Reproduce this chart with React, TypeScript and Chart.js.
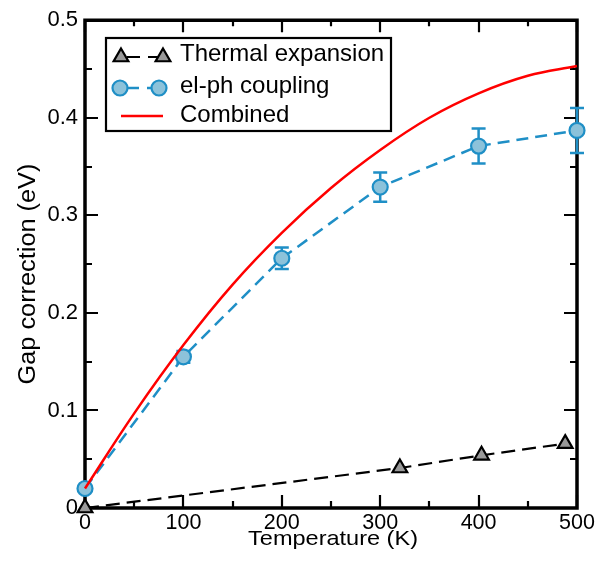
import React, { useEffect, useRef } from "react";
import { Chart, registerables } from "chart.js";

Chart.register(...registerables);

// ---- data ----
const thermalT = [0, 320, 403, 488];
const thermalGap = [0, 0.041, 0.054, 0.066];

const elphT = [0, 100, 200, 300, 400, 500];
const elphGap = [0.02, 0.155, 0.256, 0.329, 0.371, 0.387];
const elphErr = [0, 0.006, 0.011, 0.015, 0.018, 0.023];

const combinedT = [0, 50, 100, 150, 200, 250, 300, 350, 400, 450, 500];
const combinedGap = [0.02, 0.097, 0.167, 0.229, 0.282, 0.328, 0.367, 0.4, 0.425, 0.443, 0.453];

const seriesLabels = ["Thermal expansion", "el-ph coupling", "Combined"];
const xTickValues = [0, 100, 200, 300, 400, 500];
const yTickValues = [0, 0.1, 0.2, 0.3, 0.4, 0.5];
const xTitle = "Temperature (K)";
const yTitle = "Gap correction (eV)";

// ---- styles ----
const FONT = "'Liberation Sans', Arial, Helvetica, sans-serif";
const BLUE = "#1f8fc6";
const BLUE_FILL = "#8cc2da";
const RED = "#ff0000";
const GRAY = "#999999";

const xMinor = 50;
const yMinor = 0.05;

const framePlugin = {
  id: "frameTicks",
  beforeDatasetsDraw(chart: any) {
    const { ctx, chartArea: a, scales } = chart;
    const xs = scales.x;
    const ys = scales.y;
    ctx.save();
    ctx.strokeStyle = "#000";
    ctx.lineWidth = 2.2;
    ctx.beginPath();
    const xMax = xTickValues[xTickValues.length - 1];
    for (let i = 0; i * xMinor <= xMax + 1e-9; i++) {
      const v = i * xMinor;
      const px = Math.round(xs.getPixelForValue(v));
      const major = xTickValues.some((t) => Math.abs(t - v) < 1e-9);
      const len = major ? 13 : 7;
      ctx.moveTo(px, a.bottom);
      ctx.lineTo(px, a.bottom - len);
      ctx.moveTo(px, a.top);
      ctx.lineTo(px, a.top + len - 1);
    }
    const yMax = yTickValues[yTickValues.length - 1];
    for (let i = 0; i * yMinor <= yMax + 1e-9; i++) {
      const v = i * yMinor;
      const py = Math.round(ys.getPixelForValue(v));
      const major = yTickValues.some((t) => Math.abs(t - v) < 1e-9);
      const len = major ? 13 : 7;
      ctx.moveTo(a.left, py);
      ctx.lineTo(a.left + len, py);
      ctx.moveTo(a.right, py);
      ctx.lineTo(a.right - len, py);
    }
    ctx.stroke();
    ctx.lineWidth = 3.5;
    ctx.beginPath();
    ctx.rect(a.left, a.top, a.right - a.left, a.bottom - a.top);
    ctx.stroke();
    ctx.restore();
  },
};

const errorBarPlugin = {
  id: "errorBars",
  beforeDatasetDraw(chart: any, args: any) {
    if (args.index !== 1) return;
    const { ctx, scales } = chart;
    const xs = scales.x;
    const ys = scales.y;
    ctx.save();
    ctx.strokeStyle = BLUE;
    ctx.lineWidth = 2.5;
    ctx.beginPath();
    elphT.forEach((t, i) => {
      const e = elphErr[i];
      if (!e) return;
      const px = xs.getPixelForValue(t);
      const top = ys.getPixelForValue(elphGap[i] + e);
      const bot = ys.getPixelForValue(elphGap[i] - e);
      ctx.moveTo(px, top);
      ctx.lineTo(px, bot);
      ctx.moveTo(px - 7, top);
      ctx.lineTo(px + 7, top);
      ctx.moveTo(px - 7, bot);
      ctx.lineTo(px + 7, bot);
    });
    ctx.stroke();
    ctx.restore();
  },
};

function drawTriangle(ctx: CanvasRenderingContext2D, x: number, y: number, r: number) {
  ctx.beginPath();
  ctx.moveTo(x, y - r);
  ctx.lineTo(x + r * Math.sin((2 * Math.PI) / 3), y - r * Math.cos((2 * Math.PI) / 3));
  ctx.lineTo(x + r * Math.sin((4 * Math.PI) / 3), y - r * Math.cos((4 * Math.PI) / 3));
  ctx.closePath();
  ctx.fillStyle = GRAY;
  ctx.fill();
  ctx.strokeStyle = "#000";
  ctx.lineWidth = 2.2;
  ctx.stroke();
}

function drawCircle(ctx: CanvasRenderingContext2D, x: number, y: number, r: number) {
  ctx.beginPath();
  ctx.arc(x, y, r, 0, Math.PI * 2);
  ctx.fillStyle = BLUE_FILL;
  ctx.fill();
  ctx.strokeStyle = BLUE;
  ctx.lineWidth = 2.2;
  ctx.stroke();
}

const legendTitlePlugin = {
  id: "legendTitles",
  afterDraw(chart: any) {
    const { ctx, chartArea: a } = chart;
    ctx.save();
    // legend box
    const bx = 106, by = 38, bw = 285, bh = 93;
    ctx.fillStyle = "#fff";
    ctx.fillRect(bx, by, bw, bh);
    ctx.strokeStyle = "#000";
    ctx.lineWidth = 2.2;
    ctx.strokeRect(bx, by, bw, bh);

    const rows = [54, 86, 115];
    const x1 = 121, x2 = 163;
    // row 1 thermal
    ctx.strokeStyle = "#000";
    ctx.lineWidth = 2.2;
    ctx.setLineDash([13, 8]);
    ctx.lineDashOffset = -6;
    ctx.beginPath();
    ctx.moveTo(x1, rows[0] + 3);
    ctx.lineTo(x2, rows[0] + 3);
    ctx.stroke();
    ctx.setLineDash([]);
    drawTriangle(ctx, x1, rows[0] + 3, 8.5);
    drawTriangle(ctx, x2, rows[0] + 3, 8.5);
    // row 2 el-ph
    ctx.strokeStyle = BLUE;
    ctx.lineWidth = 2.5;
    ctx.setLineDash([12, 8]);
    ctx.lineDashOffset = -6;
    ctx.beginPath();
    ctx.moveTo(x1, rows[1] + 2);
    ctx.lineTo(x2 - 4, rows[1] + 2);
    ctx.stroke();
    ctx.setLineDash([]);
    drawCircle(ctx, x1 - 1, rows[1] + 2, 7.5);
    drawCircle(ctx, x2 - 4, rows[1] + 2, 7.5);
    // row 3 combined
    ctx.strokeStyle = RED;
    ctx.lineWidth = 2.5;
    ctx.beginPath();
    ctx.moveTo(x1, rows[2] + 1);
    ctx.lineTo(x2, rows[2] + 1);
    ctx.stroke();

    ctx.fillStyle = "#000";
    ctx.font = `24px ${FONT}`;
    ctx.textAlign = "left";
    ctx.textBaseline = "middle";
    seriesLabels.forEach((lab, i) => {
      ctx.fillText(lab, 180, rows[i]);
    });

    // axis titles (slightly widened glyphs, as in the reference)
    ctx.textAlign = "center";
    ctx.textBaseline = "alphabetic";
    ctx.save();
    ctx.translate((a.left + a.right) / 2 + 2, 545);
    ctx.scale(1.12, 1);
    ctx.font = `21px ${FONT}`;
    ctx.fillText(xTitle, 0, 0);
    ctx.restore();

    ctx.save();
    ctx.translate(35, 274);
    ctx.rotate(-Math.PI / 2);
    ctx.scale(1.1, 1);
    ctx.font = `23px ${FONT}`;
    ctx.fillText(yTitle, 0, 0);
    ctx.restore();
    ctx.restore();
  },
};

export default function App() {
  const ref = useRef<HTMLCanvasElement | null>(null);
  useEffect(() => {
    if (!ref.current) return;
    const chart = new Chart(ref.current, {
      type: "line",
      data: {
        datasets: [
          {
            label: seriesLabels[0],
            data: thermalT.map((t, i) => ({ x: t, y: thermalGap[i] })),
            borderColor: "#000",
            borderWidth: 2.2,
            borderDash: [14, 7],
            pointStyle: "triangle",
            pointRadius: 8.5,
            pointBorderWidth: 2.2,
            pointBackgroundColor: GRAY,
            pointBorderColor: "#000",
            fill: false,
            clip: false as any,
            order: 1,
          },
          {
            label: seriesLabels[1],
            data: elphT.map((t, i) => ({ x: t, y: elphGap[i] })),
            borderColor: BLUE,
            borderWidth: 2.5,
            borderDash: [12, 7],
            pointStyle: "circle",
            pointRadius: 7.5,
            pointBorderWidth: 2.2,
            pointBackgroundColor: BLUE_FILL,
            pointBorderColor: BLUE,
            fill: false,
            clip: false as any,
            order: 2,
          },
          {
            label: seriesLabels[2],
            data: combinedT.map((t, i) => ({ x: t, y: combinedGap[i] })),
            borderColor: RED,
            borderWidth: 2.5,
            pointRadius: 0,
            tension: 0.4,
            fill: false,
            clip: false as any,
            order: 0,
          },
        ],
      },
      options: {
        responsive: false,
        animation: false,
        layout: { padding: { top: 17, right: 22, left: 0, bottom: 0 } },
        plugins: {
          legend: { display: false },
          tooltip: { enabled: false },
        },
        scales: {
          x: {
            type: "linear",
            min: xTickValues[0],
            max: xTickValues[xTickValues.length - 1],
            afterBuildTicks: (s: any) => {
              s.ticks = xTickValues.map((v) => ({ value: v }));
            },
            afterFit: (s: any) => {
              s.height = 57;
            },
            grid: { display: false, drawTicks: false },
            border: { display: false },
            ticks: {
              color: "#000",
              font: { family: FONT, size: 21.5 },
              padding: 2,
              maxRotation: 0,
              callback: (v: any) => String(v),
            },
          },
          y: {
            type: "linear",
            min: yTickValues[0],
            max: yTickValues[yTickValues.length - 1],
            afterBuildTicks: (s: any) => {
              s.ticks = yTickValues.map((v) => ({ value: v }));
            },
            afterFit: (s: any) => {
              s.width = 85;
            },
            grid: { display: false, drawTicks: false },
            border: { display: false },
            ticks: {
              color: "#000",
              font: { family: FONT, size: 22 },
              padding: 7,
              callback: (v: any) => (Number(v) === 0 ? "0" : Number(v).toFixed(1)),
            },
          },
        },
      },
      plugins: [framePlugin, errorBarPlugin, legendTitlePlugin],
    });
    return () => chart.destroy();
  }, []);
  return (
    <div style={{ position: "fixed", left: 0, top: 0, width: 599, height: 565, background: "#fff" }}>
      <canvas ref={ref} width={599} height={565} style={{ display: "block", width: 599, height: 565 }} />
    </div>
  );
}
